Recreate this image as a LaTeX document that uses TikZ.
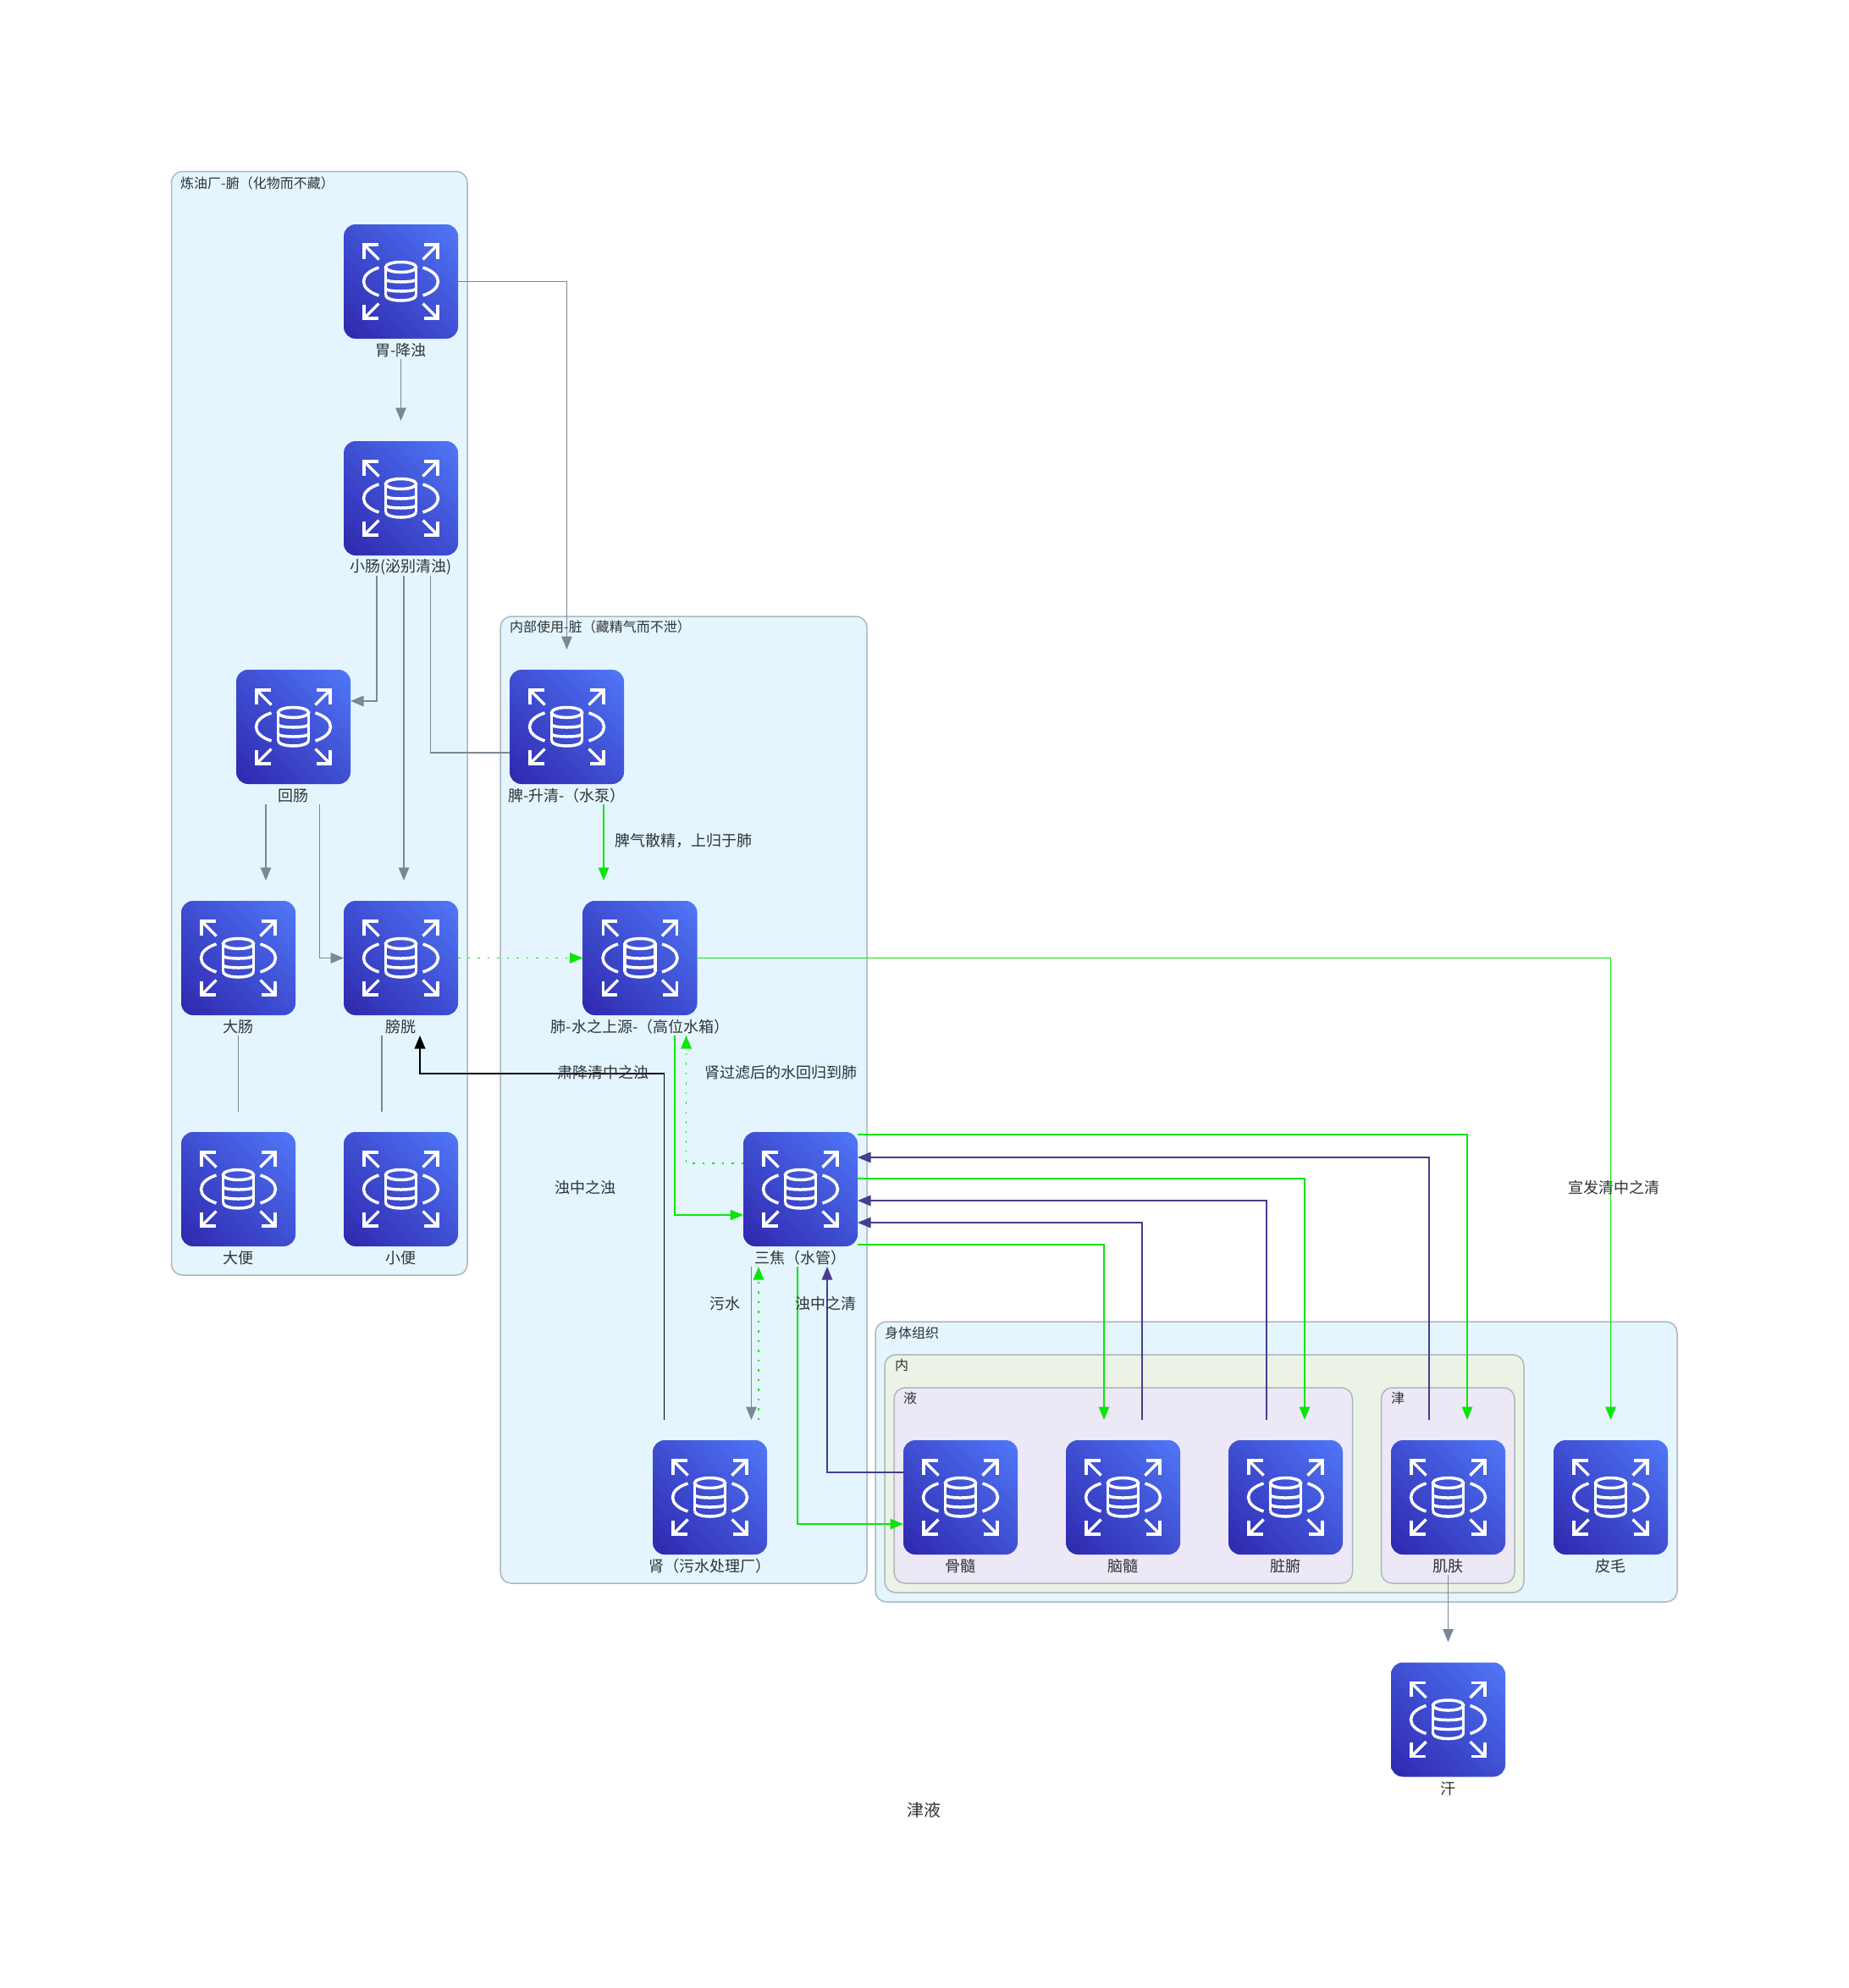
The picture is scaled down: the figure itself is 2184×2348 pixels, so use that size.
\documentclass[tikz,border=0pt]{standalone}
\usepackage{fontspec}
\setmainfont{Noto Sans CJK SC}
\usetikzlibrary{arrows.meta,shadings}
\definecolor{ink}{HTML}{2D3436}
\definecolor{clA}{HTML}{E5F5FD}
\definecolor{clB}{HTML}{EBF3E7}
\definecolor{clC}{HTML}{ECE8F6}
\definecolor{clLine}{HTML}{AEB6BE}
\definecolor{edGray}{HTML}{7B8894}
\definecolor{edGreen}{HTML}{0CE40C}
\definecolor{edPurple}{HTML}{483D8B}
\definecolor{icLow}{HTML}{2E27AD}
\definecolor{icMid}{HTML}{3F4FD2}
\definecolor{icHigh}{HTML}{5078F8}
\tikzset{
  x=1pt,y=-1pt,
  clusterbox/.style={draw=clLine,line width=1.5pt,rounded corners=13pt},
  clusterlbl/.style={font=\fontsize{16}{18}\selectfont,text=ink,inner sep=0pt,anchor=west},
  svcbox/.style={rectangle,minimum width=135pt,minimum height=183pt,inner sep=0pt,outer sep=0pt},
  nodelbl/.style={font=\fontsize{18}{20}\selectfont,text=ink,inner sep=0pt},
  edgelbl/.style={font=\fontsize{18}{20}\selectfont,text=ink,inner sep=0pt},
  edgebase/.style={line width=1.5pt,-{Triangle[length=15.5pt,width=12.5pt]}},
  grayedge/.style={edgebase,draw=edGray},
  greenedge/.style={edgebase,draw=edGreen},
  purpleedge/.style={edgebase,draw=edPurple,line width=1.3pt},
  blackedge/.style={edgebase,draw=black,line width=1.8pt},
  greendot/.style={greenedge,dash pattern=on 2.5pt off 9pt},
  plainedge/.style={line width=1.5pt,draw=edGray},
  rdsicon/.pic={
    \shade[rounded corners=14pt,lower left=icLow,upper right=icHigh,lower right=icMid,upper left=icMid]
      (-67.5,-67.5) rectangle (67.5,67.5);
    \begin{scope}[draw=white,line width=3.5pt]
      \foreach \sx/\sy in {-1/-1,1/-1,-1/1,1/1}{
        \draw (\sx*26,\sy*26) -- (\sx*43.5,\sy*43.5);
        \draw (\sx*27,\sy*43.5) -- (\sx*43.5,\sy*43.5) -- (\sx*43.5,\sy*27);
      }
      \foreach \sx in {-1,1}{
        \draw (\sx*26,-16.5) .. controls (\sx*37,-13) and (\sx*44,-7) .. (\sx*44,0)
              .. controls (\sx*44,7) and (\sx*37,13) .. (\sx*26,16.5);
      }
      \draw (0,-17) ellipse [x radius=18pt,y radius=6pt];
      \draw (-18,-17) -- (-18,16.5);
      \draw (18,-17) -- (18,16.5);
      \draw (-18,-2.5) .. controls (-16,1.5) and (16,1.5) .. (18,-2.5);
      \draw (-18,8.5) .. controls (-16,12.5) and (16,12.5) .. (18,8.5);
      \draw (-18,16.5) .. controls (-16,24.5) and (16,24.5) .. (18,16.5);
    \end{scope}
  }
}
\newcommand{\svc}[4]{%
  \node[svcbox] (#1) at (#2,#3) {};
  \pic at (#1) {rdsicon};
  \node[nodelbl] (#1lbl) at ([yshift=10pt]#1.south) {#4};
}
\begin{document}
\begin{tikzpicture}
\useasboundingbox[fill=white] (0,0) rectangle (2184,2348);

% clusters
\path[clusterbox,fill=clA] (202.5,202.5) rectangle (552,1506);
\node[clusterlbl] (cA) at (213,216) {炼油厂-腑（化物而不藏）};
\path[clusterbox,fill=clA] (591,728) rectangle (1024,1870);
\node[clusterlbl] (cB) at (602,740) {内部使用-脏（藏精气而不泄）};
\path[clusterbox,fill=clA] (1034,1561) rectangle (1981,1892);
\node[clusterlbl] (cC) at (1045,1574) {身体组织};
\path[clusterbox,fill=clB] (1045,1600) rectangle (1800,1881);
\node[clusterlbl] (cD) at (1057,1612) {内};
\path[clusterbox,fill=clC] (1056,1639) rectangle (1597.5,1870);
\node[clusterlbl] (cE) at (1067,1651) {液};
\path[clusterbox,fill=clC] (1631.5,1639) rectangle (1789,1870);
\node[clusterlbl] (cF) at (1643,1651) {津};

% services
\svc{wei}{473.5}{332.5}{胃-降浊}
\svc{xc}{473.5}{588.5}{小肠(泌别清浊)}
\svc{hc}{346.5}{858.5}{回肠}
\svc{pi}{669.5}{858.5}{脾-升清-（水泵）}
\svc{dc}{281.5}{1131.5}{大肠}
\svc{pg}{473.5}{1131.5}{膀胱}
\svc{fei}{756}{1131.5}{肺-水之上源-（高位水箱）}
\svc{db}{281.5}{1404.5}{大便}
\svc{xb}{473.5}{1404.5}{小便}
\svc{sj}{945.5}{1404.5}{三焦（水管）}
\svc{sh}{838.5}{1768.5}{肾（污水处理厂）}
\svc{gs}{1134.5}{1768.5}{骨髓}
\svc{ns}{1326.5}{1768.5}{脑髓}
\svc{zf}{1518.5}{1768.5}{脏腑}
\svc{jf}{1710.5}{1768.5}{肌肤}
\svc{pm}{1902.5}{1768.5}{皮毛}
\svc{hh}{1710.5}{2031}{汗}

% connectors
\draw[grayedge] (wei.south) -- (xc.north);
\draw[grayedge] (wei.east) -| (pi.north);
\draw[grayedge] ([xshift=-28.5pt]xc.south) |- ([yshift=30.5pt]hc.east);
\draw[grayedge] ([xshift=3.5pt]xc.south) -- ([xshift=3.5pt]pg.north);
\draw[plainedge] ([yshift=-30.5pt]pi.west) -| ([xshift=35pt]xc.south);
\draw[grayedge] ([xshift=-32.5pt]hc.south) -- ([xshift=32.5pt]dc.north);
\draw[grayedge] ([xshift=31pt]hc.south) |- (pg.west);
\draw[plainedge] (dc.south) -- (db.north);
\draw[plainedge] ([xshift=-22.5pt]pg.south) -- ([xshift=-22.5pt]xb.north);
\draw[greendot] (pg.east) -- (fei.west);
\draw[greenedge] ([xshift=43.5pt]pi.south) -- ([xshift=-43pt]fei.north);
\draw[blackedge] ([xshift=-54pt]sh.north) -- ++(0,-409) -| ([xshift=22.5pt]pg.south);
\draw[greenedge] ([xshift=41pt]fei.south) |- ([yshift=-30.5pt]sj.west);
\draw[greendot] ([yshift=30.5pt]sj.west) -| ([xshift=54.5pt]fei.south);
\draw[greenedge] (fei.east) -| (pm.north);
\draw[greenedge] ([yshift=64.5pt]sj.east) -| ([xshift=22.5pt]jf.north);
\draw[purpleedge] ([xshift=-22.5pt]jf.north) |- ([yshift=37.5pt]sj.east);
\draw[greenedge] ([yshift=12.5pt]sj.east) -| ([xshift=22.5pt]zf.north);
\draw[purpleedge] ([xshift=-22.5pt]zf.north) |- ([yshift=-13.5pt]sj.east);
\draw[purpleedge] ([xshift=22.5pt]ns.north) |- ([yshift=-39.5pt]sj.east);
\draw[greenedge] ([yshift=-65.5pt]sj.east) -| ([xshift=-22.5pt]ns.north);
\draw[greenedge] ([xshift=-3.5pt]sj.south) |- ([yshift=-31.5pt]gs.west);
\draw[purpleedge] ([yshift=29.5pt]gs.west) -| ([xshift=31.5pt]sj.south);
\draw[grayedge] ([xshift=-58pt]sj.south) -- ([xshift=49pt]sh.north);
\draw[greendot] ([xshift=57.5pt]sh.north) -- ([xshift=-49.5pt]sj.south);
\draw[grayedge] (jf.south) -- (hh.north);

% connector labels
\node[edgelbl] (l1) at (807.5,993) {脾气散精，上归于肺};
\node[edgelbl] (l2) at (712.5,1267) {肃降清中之浊};
\node[edgelbl] (l3) at (922,1267) {肾过滤后的水回归到肺};
\node[edgelbl] (l4) at (691,1403) {浊中之浊};
\node[edgelbl] (l5) at (1906,1403) {宣发清中之清};
\node[edgelbl] (l6) at (856,1540) {污水};
\node[edgelbl] (l7) at (975,1540) {浊中之清};

% title
\node[font=\fontsize{20}{22}\selectfont,text=ink,inner sep=0pt] (title) at (1091,2138) {津液};
\end{tikzpicture}
\end{document}
